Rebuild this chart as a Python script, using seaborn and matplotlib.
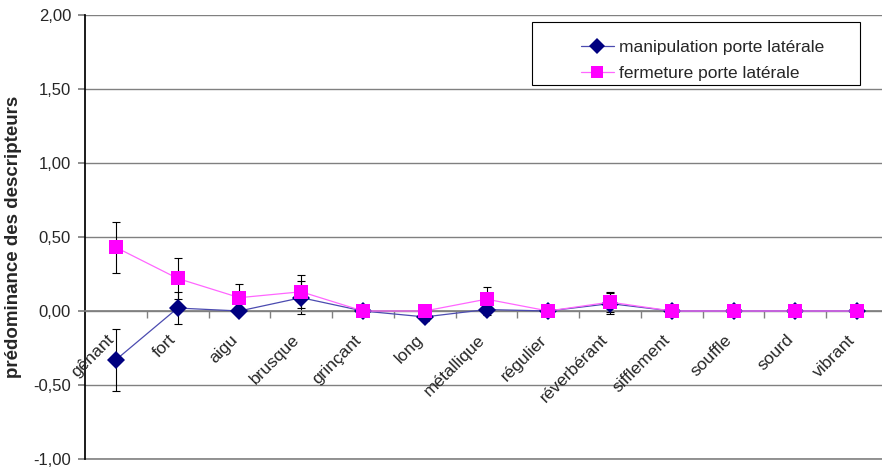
import numpy as np
import pandas as pd
import matplotlib
matplotlib.use('Agg')
import matplotlib.pyplot as plt
import seaborn as sns
from matplotlib.patches import Rectangle
from matplotlib.ticker import FuncFormatter

# data
descripteurs = ['gênant', 'fort', 'aigu', 'brusque', 'grinçant', 'long', 'métallique',
                'régulier', 'réverbérant', 'sifflement', 'souffle', 'sourd', 'vibrant']
manip = [-0.33, 0.02, 0.00, 0.09, 0.00, -0.04, 0.01, 0.00, 0.05, 0.00, 0.00, 0.00, 0.00]
manip_err = [0.21, 0.11, 0.00, 0.11, 0.00, 0.03, 0.04, 0.00, 0.07, 0.00, 0.00, 0.00, 0.00]
ferm = [0.43, 0.22, 0.09, 0.13, 0.00, 0.00, 0.08, 0.00, 0.06, 0.00, 0.00, 0.00, 0.00]
ferm_err = [0.17, 0.14, 0.09, 0.11, 0.00, 0.00, 0.08, 0.00, 0.07, 0.00, 0.00, 0.00, 0.00]
series = ['manipulation porte latérale', 'fermeture porte latérale']

sns.set_theme(style='white')
plt.rcParams['font.family'] = ['Liberation Sans', 'DejaVu Sans']

x = np.arange(len(descripteurs))
df = pd.DataFrame({
    'x': np.concatenate([x, x]),
    'val': manip + ferm,
    'serie': [series[0]] * len(x) + [series[1]] * len(x),
})

fig = plt.figure(figsize=(8.82, 4.72), dpi=100)
ax = fig.add_axes([85 / 882, 13 / 472, 803 / 882, 444 / 472])

# barres d'erreur
ax.errorbar(x, manip, yerr=manip_err, fmt='none', ecolor='black', elinewidth=0.8, capsize=3, capthick=0.8, zorder=2)
ax.errorbar(x, ferm, yerr=ferm_err, fmt='none', ecolor='black', elinewidth=0.8, capsize=3, capthick=0.8, zorder=2)

sns.lineplot(data=df, x='x', y='val', hue='serie', style='serie',
             palette={series[0]: '#000080', series[1]: '#FF00FF'},
             markers={series[0]: 'D', series[1]: 's'}, dashes=False,
             markersize=9.5, linewidth=0.9, markeredgewidth=0, ax=ax, zorder=3, legend=False)
handles = ax.get_lines()[-2:]
# lines a bit lighter than the markers, like Excel
for ln, lc, mc in zip(handles, ['#4b4bb0', '#ff66ff'], ['#000080', '#FF00FF']):
    ln.set_color(lc)
    ln.set_markerfacecolor(mc)
    ln.set_markeredgecolor(mc)

ax.set_xlim(-0.5, len(descripteurs) - 0.5)
ax.set_ylim(-1.0, 2.0)
ax.set_yticks(np.arange(-1.0, 2.01, 0.5))
ax.yaxis.set_major_formatter(FuncFormatter(lambda v, p: f'{v:.2f}'.replace('.', ',')))
ax.tick_params(axis='y', labelsize=12, length=5, direction='out', color='#808080', left=True, pad=5)
ax.grid(axis='y', color='#808080', linewidth=1)
ax.grid(axis='x', visible=False)
ax.axhline(-1.0, color='#808080', linewidth=1.2, clip_on=False, zorder=1)

# axe des x à zéro, graduations entre les catégories
ax.spines['bottom'].set_position(('data', 0))
ax.spines['bottom'].set_color('#808080')
ax.spines['top'].set_visible(False)
ax.spines['right'].set_visible(False)
ax.spines['left'].set_color('black')
ax.set_xticks(x)
ax.set_xticklabels([])
ax.set_xticks(np.arange(0.5, len(descripteurs) - 0.5, 1), minor=True)
ax.tick_params(axis='x', which='major', length=0)
ax.tick_params(axis='x', which='minor', length=5, direction='out', color='#808080', bottom=True)
ax.set_xlabel('')
for i, lab in enumerate(descripteurs):
    ax.annotate(lab, (i, 0), xytext=(-3, -19), textcoords='offset points',
                rotation=45, ha='right', va='center', rotation_mode='anchor', fontsize=12.5)

ax.set_ylabel('prédominance des descripteurs', fontsize=13.5, fontweight='bold', labelpad=8)

leg = ax.legend(handles, series, loc='upper left', bbox_to_anchor=(0.598, 0.98), frameon=False,
                fontsize=12.5, handlelength=1.9, handletextpad=0.3, labelspacing=0.65,
                markerscale=0.85)
ax.add_patch(Rectangle((0.557, 0.842), 0.408, 0.142, transform=ax.transAxes,
                       facecolor='white', edgecolor='black', linewidth=0.8, zorder=4))
leg.set_zorder(5)

fig.savefig('out.png', dpi=100)
